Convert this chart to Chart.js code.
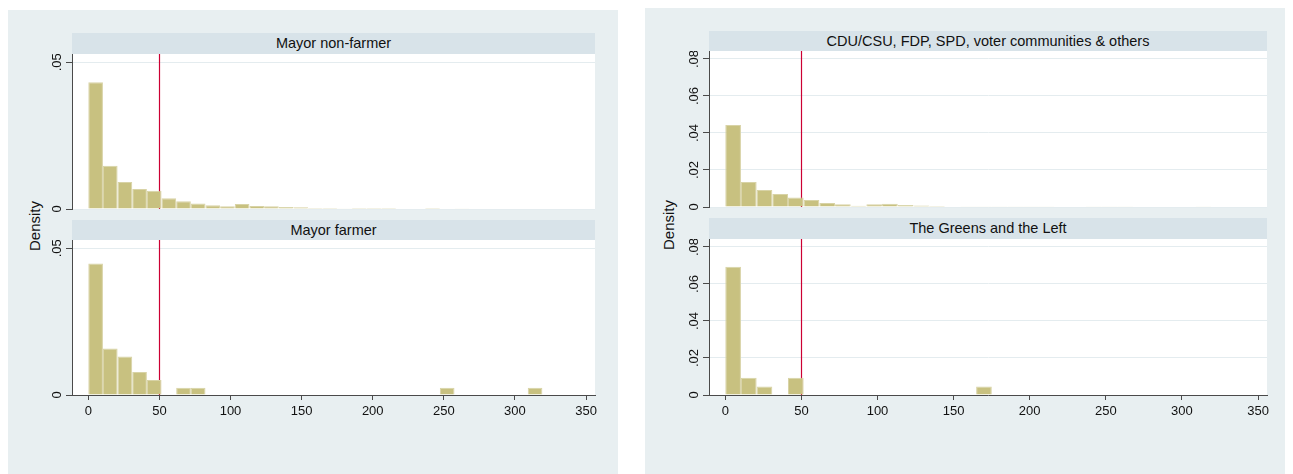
<!DOCTYPE html>
<html><head><meta charset="utf-8">
<script src="https://cdn.jsdelivr.net/npm/chart.js@4"></script>
<style>
html,body{margin:0;padding:0;background:#fff;}
body{width:1293px;height:474px;position:relative;overflow:hidden;font-family:"Liberation Sans",Arial,Helvetica,sans-serif;}
.panel{position:absolute;background:#e8eff1;}
.strip{position:absolute;background:#d8e3e9;color:#111;font-size:14.5px;text-align:center;white-space:nowrap;}
.ylab{position:absolute;transform:translate(-50%,-50%) rotate(-90deg);font-size:15px;color:#111;white-space:nowrap;}
canvas{position:absolute;}
</style></head><body>
<div class="panel" style="left:8px;top:10px;width:610px;height:464px;"></div>
<div class="panel" style="left:645px;top:8px;width:640px;height:466px;"></div>

<div class="strip" id="s1" style="left:72px;top:33px;width:523px;height:21px;line-height:21px;"></div>
<div class="strip" id="s2" style="left:72px;top:220px;width:523px;height:20px;line-height:20px;"></div>
<div class="strip" id="s3" style="left:709px;top:31px;width:558px;height:20px;line-height:20px;"></div>
<div class="strip" id="s4" style="left:709px;top:218px;width:558px;height:21px;line-height:21px;"></div>

<div class="ylab" id="yl1" style="left:34px;top:226px;"></div>
<div class="ylab" id="yl2" style="left:668px;top:225px;"></div>

<canvas id="c1" width="610" height="160" style="left:8px;top:54px;"></canvas>
<canvas id="c2" width="610" height="195" style="left:8px;top:240px;"></canvas>
<canvas id="c3" width="640" height="161" style="left:645px;top:51px;"></canvas>
<canvas id="c4" width="640" height="196" style="left:645px;top:239px;"></canvas>

<script>
// ---------- data ----------
const binWidth = 10.3;            // histogram bin width (same bins in every panel)
const thresholdLine = 50;         // vertical reference line
const yAxisTitle = 'Density';

const panelTitles = ['Mayor non-farmer', 'Mayor farmer',
  'CDU/CSU, FDP, SPD, voter communities & others', 'The Greens and the Left'];

const xTickValues = [0, 50, 100, 150, 200, 250, 300, 350];
const xTickLabels = ['0', '50', '100', '150', '200', '250', '300', '350'];

const yTicksMayor = [0, 0.05];
const yTickLabelsMayor = ['0', '.05'];
const yTicksParty = [0, 0.02, 0.04, 0.06, 0.08];
const yTickLabelsParty = ['0', '.02', '.04', '.06', '.08'];

// densities per bin (bin k covers [k*binWidth, (k+1)*binWidth))
const mayorNonFarmer = [0.0432, 0.0147, 0.0092, 0.0068, 0.0062, 0.0037, 0.0026, 0.0019, 0.0013, 0.0009,
  0.0017, 0.0010, 0.0009, 0.0007, 0.0006, 0.0003, 0.0003, 0.0001, 0.0003, 0.0003,
  0.0003, 0, 0, 0.0003, 0, 0.0001, 0, 0, 0, 0, 0];
const mayorFarmer = [0.0448, 0.0158, 0.0131, 0.0078, 0.0051, 0, 0.0025, 0.0025, 0, 0,
  0, 0, 0, 0, 0, 0, 0, 0, 0, 0,
  0, 0, 0, 0, 0.0025, 0, 0, 0, 0, 0, 0.0025];
const cduFdpSpdOthers = [0.0443, 0.0135, 0.0092, 0.0070, 0.0051, 0.0038, 0.0022, 0.0015, 0.0007, 0.0015,
  0.0017, 0.0011, 0.0008, 0.0005, 0.0003, 0.0002, 0.0002, 0.0002, 0.0002, 0.0002,
  0.0002, 0, 0, 0.0002, 0.0002, 0.0002, 0, 0, 0, 0, 0.0002];
const greensLeft = [0.0693, 0.0093, 0.0046, 0, 0.0093, 0, 0, 0, 0, 0,
  0, 0, 0, 0, 0, 0, 0.0046, 0, 0, 0,
  0, 0, 0, 0, 0, 0, 0, 0, 0, 0, 0];

// ---------- text ----------
['s1','s2','s3','s4'].forEach((id, i) => document.getElementById(id).textContent = panelTitles[i]);
document.getElementById('yl1').textContent = yAxisTitle;
document.getElementById('yl2').textContent = yAxisTitle;

// ---------- drawing ----------
const FONT = '"Liberation Sans", Arial, Helvetica, sans-serif';
const AXIS = '#4a4a4a';

const deco = {
  id: 'deco',
  beforeDraw(chart) {
    const {ctx, chartArea: a} = chart;
    ctx.save();
    ctx.fillStyle = '#ffffff';
    ctx.fillRect(a.left, a.top, a.right - a.left, a.bottom - a.top);
    ctx.restore();
  },
  beforeDatasetsDraw(chart, args, opts) {
    const {ctx, chartArea: a, scales: {x}} = chart;
    const px = Math.round(x.getPixelForValue(opts.refLine)) + 0.5;
    ctx.save();
    ctx.strokeStyle = '#cc0033';
    ctx.lineWidth = 1.2;
    ctx.beginPath();
    ctx.moveTo(px, a.top);
    ctx.lineTo(px, a.bottom);
    ctx.stroke();
    ctx.restore();
  },
  afterDraw(chart, args, opts) {
    const {ctx, scales: {y}} = chart;
    ctx.save();
    ctx.fillStyle = '#111';
    ctx.font = '13px ' + FONT;
    ctx.textAlign = 'center';
    ctx.textBaseline = 'middle';
    y.ticks.forEach((t, i) => {
      const py = y.getPixelForValue(t.value);
      ctx.save();
      ctx.translate(y.right - 15, py);
      ctx.rotate(-Math.PI / 2);
      ctx.fillText(opts.labels[i], 0, 0);
      ctx.restore();
    });
    ctx.restore();
  }
};

function makeHist(id, values, yTicks, yLabels, yMax, xMin, xMax, showX, padRight, padBottom) {
  const pts = values.map((v, k) => ({x: k * binWidth + binWidth / 2, y: v > 0 ? v : null}));
  return new Chart(document.getElementById(id), {
    type: 'bar',
    data: {
      datasets: [{
        data: pts,
        backgroundColor: 'rgb(200,193,128)',
        borderColor: 'rgb(216,211,166)',
        borderWidth: 1,
        borderSkipped: 'start',
        barPercentage: 1,
        categoryPercentage: 1,
        inflateAmount: 0
      }]
    },
    options: {
      responsive: false,
      animation: false,
      devicePixelRatio: 1,
      layout: {padding: {left: 0, top: 0, right: padRight, bottom: padBottom}},
      plugins: {
        legend: {display: false},
        tooltip: {enabled: false},
        deco: {refLine: thresholdLine, labels: yLabels}
      },
      scales: {
        x: {
          type: 'linear',
          display: showX,
          offset: false,
          min: xMin, max: xMax,
          afterBuildTicks: s => { s.ticks = xTickValues.map(v => ({value: v})); },
          afterFit: s => { s.height = showX ? 40 : 0; },
          grid: {offset: false, drawOnChartArea: false, drawTicks: true, tickLength: 5, tickColor: AXIS},
          border: {display: true, color: AXIS, width: 1},
          ticks: {
            autoSkip: false, maxRotation: 0, padding: 4,
            color: '#111', font: {family: FONT, size: 13},
            callback: (v) => { const i = xTickValues.indexOf(v); return i >= 0 ? xTickLabels[i] : ''; }
          }
        },
        y: {
          type: 'linear',
          min: 0, max: yMax,
          afterBuildTicks: s => { s.ticks = yTicks.map(v => ({value: v})); },
          afterFit: s => { s.width = 64; },
          grid: {color: '#e4ecef', lineWidth: 1, drawTicks: true, tickLength: 6, tickColor: AXIS},
          border: {display: true, color: AXIS, width: 1},
          ticks: {display: false}
        }
      }
    },
    plugins: [deco]
  });
}

makeHist('c1', mayorNonFarmer, yTicksMayor, yTickLabelsMayor, 0.0528, -11.46, 356.3, false, 23, 5);
makeHist('c2', mayorFarmer, yTicksMayor, yTickLabelsMayor, 0.0528, -11.46, 356.3, true, 23, 0);
makeHist('c3', cduFdpSpdOthers, yTicksParty, yTickLabelsParty, 0.0843, -10.7, 355.9, false, 18, 5);
makeHist('c4', greensLeft, yTicksParty, yTickLabelsParty, 0.0843, -10.7, 355.9, true, 18, 0);
</script>
</body></html>
